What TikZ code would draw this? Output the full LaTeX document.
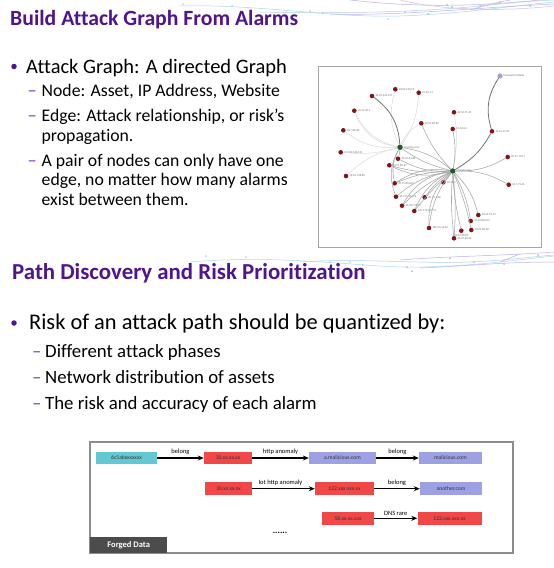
\documentclass[tikz,border=0pt]{standalone}
\usepackage{fontspec}
\setmainfont{Carlito}[Ligatures=NoCommon]
\usetikzlibrary{arrows.meta}
\definecolor{ttl}{RGB}{80,20,140}
\definecolor{dsh}{RGB}{130,60,200}
\definecolor{cyb}{RGB}{100,200,212}
\definecolor{rdb}{RGB}{240,72,72}
\definecolor{lvb}{RGB}{158,160,228}
\definecolor{gnd}{RGB}{130,20,30}
\definecolor{hub}{RGB}{30,90,40}
\definecolor{swA}{RGB}{170,215,235}
\definecolor{swB}{RGB}{190,175,235}
\tikzset{
  ttltext/.style={anchor=base west, inner sep=0, text=ttl, font=\fontsize{21.7}{24}\selectfont\bfseries},
  lvone/.style={anchor=base west, inner sep=0, font=\fontsize{20.5}{24}\selectfont},
  lvtwo/.style={anchor=base west, inner sep=0, font=\fontsize{17.7}{20}\selectfont},
  lvonb/.style={anchor=base west, inner sep=0, font=\fontsize{22.4}{24}\selectfont},
  lvtwb/.style={anchor=base west, inner sep=0, font=\fontsize{18.8}{22}\selectfont},
  dashmark/.style={anchor=base west, inner sep=0, text=dsh},
  bdot/.style={circle, fill=ttl, inner sep=0, minimum size=5.5pt},
  gn/.style={circle, fill=gnd, inner sep=0, minimum size=4.6pt},
  hb/.style={circle, fill=hub, inner sep=0, minimum size=5.5pt},
  lbl/.style={font=\fontsize{2.9}{3}\selectfont, text=black!55, inner sep=0.8pt},
  ef/.style={black!14, line width=0.5pt},
  em/.style={black!35, line width=0.55pt},
  ed/.style={black!55, line width=0.8pt},
  fbox/.style={rectangle, inner sep=0, minimum height=12.5pt, font=\fontsize{5.6}{6}\selectfont, text=black!80},
  arr/.style={-{Stealth[length=6pt,width=5pt]}, line width=1.5pt, black},
  elbl/.style={font=\fontsize{6.5}{7}\selectfont, inner sep=1pt, above=1.5pt},
  sw/.style={line width=0.5pt},
  swd/.style={circle, inner sep=0, minimum size=2pt}
}
\begin{document}
\begin{tikzpicture}[x=1pt,y=-1pt]
\useasboundingbox (0,0) rectangle (554,568);
\fill[white] (0,0) rectangle (554,568);

% decorative swooshes (top)
\draw[sw,swA] (180,6) .. controls (260,4) and (330,18) .. (400,16) .. controls (460,14) and (510,6) .. (554,2);
\draw[sw,swA!80!swB] (260,12) .. controls (340,14) and (420,12) .. (480,6) .. controls (510,3) and (530,1) .. (554,0);
\draw[sw,swB] (330,14) .. controls (400,16) and (470,8) .. (554,4);
\draw[sw,swB] (350,0) .. controls (420,8) and (480,6) .. (540,0);
\draw[sw,swB!80] (400,0) .. controls (440,10) and (500,12) .. (554,6);
\draw[sw,swB] (470,10) .. controls (490,4) and (500,2) .. (510,0);
\foreach \p/\c in {(183,4)/swA,(232,6)/swA,(310,11)/swA,(322,13)/swA!80!swB,(388,19)/swA,(405,12)/swB,(428,14)/swB,(447,5)/swB,(452,7)/swB,(480,6)/swB,(500,2)/swB,(530,6)/swB}
  \node[swd, fill=\c] at \p {};
% decorative swooshes (middle)
\draw[sw,swA] (190,262) .. controls (260,256) and (320,262) .. (380,266) .. controls (440,270) and (500,262) .. (554,256);
\draw[sw,swA!80!swB] (300,262) .. controls (360,258) and (420,264) .. (470,262) .. controls (510,260) and (530,257) .. (554,255);
\draw[sw,swB] (400,260) .. controls (450,256) and (500,256) .. (554,252);
\draw[sw,swB] (420,268) .. controls (470,266) and (500,262) .. (554,262);
\draw[sw,swB] (500,262) .. controls (510,258) and (515,256) .. (520,254);
\foreach \p/\c in {(206,256)/swA,(246,257)/swA,(330,262)/swA,(350,262)/swA,(363,265)/swA,(407,267)/swB,(412,271)/swB,(450,258)/swB,(474,262)/swB,(504,264)/swB,(538,255)/swB}
  \node[swd, fill=\c] at \p {};

% ---------- Section 1 ----------
\node[ttltext] (t1) at (10,25.5) {Build Attack Graph From Alarms};
\node[bdot] (b1) at (14,66.5) {};
\node[lvone] (a1) at (26,73) {Attack Graph: A directed Graph};
\begin{scope}[every node/.append style={font=\fontsize{18.5}{20}\selectfont}]
\node[dashmark] (d1) at (27.5,96.7) {–};
\node[dashmark] (d2) at (27.5,121.7) {–};
\node[dashmark] (d3) at (27.5,166.2) {–};
\end{scope}
\node[lvtwo] (s1) at (41.5,96.7) {Node: Asset, IP Address, Website};
\node[lvtwo] (s2) at (41.5,121.7) {Edge: Attack relationship, or risk’s};
\node[lvtwo] (s2b) at (41.5,141.2) {propagation.};
\node[lvtwo] (s3) at (41.5,166.2) {A pair of nodes can only have one};
\node[lvtwo] (s3b) at (41.5,185.7) {edge, no matter how many alarms};
\node[lvtwo] (s3c) at (41.5,205.2) {exist between them.};

% ---------- graph picture ----------
\node[draw=black!35, line width=0.6pt, fill=white, minimum width=223pt, minimum height=181pt, inner sep=0] (gfr) at (429.5,156.5) {};
\node[hb, label={[lbl]right:amazing.com}] (h1) at (400,147.3) {};
\node[hb, label={[lbl]right:ufangfa.com}] (h2) at (452.7,171) {};
\node[circle, fill=lvb, draw=black!40, line width=0.3pt, inner sep=0, minimum size=4.6pt, label={[lbl]right:fanbase07a78e0e}] (bl) at (500,76) {};
\foreach \n/\x/\y/\t/\s in {
 1/395.3/89.3/30.60.130.55/right,
 2/372/96/30.10.244.137/right,
 3/418.7/92.7/10.60.1.1/right,
 4/354.3/110.7/10.15.48.1/right,
 5/343.3/130.3/30.7.80.80/right,
 6/340.7/152.3/30.100.130.131/right,
 7/346/176/30.62.138.80/right,
 8/421.3/123.3/30.34.80.80/right,
 9/454/112.3/30.56.55.35/right,
 10/452.7/129/10.20.0.4/right,
 11/492/131.3/30.24.35.67/right,
 12/507.7/157/30.27.110.7/right,
 13/508.7/184.7/30.7.75.46/right,
 14/398/158.7/30.34.81.80/right,
 15/389.3/165.3/30.24.80.87/right,
 16/394.7/183.3/30.15.80.209/right,
 17/443.3/182.3/10.48.2/right,
 18/396/196.7/30.217.213.76/right,
 19/402/205.7/30.207.98.37/right,
 20/424.7/197.3/30.7.11.80/right,
 21/414.3/211/125.115.241.37/right,
 22/478.3/215/30.24.55.54/right,
 23/470.7/221/30.24.80.104/right,
 24/471.3/230/30.24.80.68/right,
 25/461.3/230.7/30.24.80.80/below,
 26/429/228/180.93.12.26/right,
 27/454/238.3/30.24.80.80/right}
 \node[gn, label={[lbl]\s:\t}] (n\n) at (\x,\y) {};

% edges from h1 (faint, left side)
\draw[ef] (h1) to[bend left=20] (n1);
\draw[ef] (h1) to[bend right=15] (n3);
\draw[ef] (h1) to[bend left=25] (n4);
\draw[ef] (h1) to[bend left=20] (n5);
\draw[ef] (h1) to[bend left=10] (n6);
\draw[ef] (h1) to[bend right=15] (n7);
\draw[ef] (h1) to[bend left=30] (n4);
\draw[ed] (h1) to[bend right=25] (n2);
\draw[em] (h1) to[bend left=10] (n14);
\draw[em] (h1) to[bend right=20] (n16);
\draw[em] (h1) to[bend right=25] (n18);
\draw[em] (h1) to[bend left=15] (h2);
\draw[em] (h1) to[bend right=10] (h2);
\draw[ef] (h1) to[bend left=20] (n8);
% edges from h2
\draw[em] (h2) to[bend left=10] (n8);
\draw[ef] (h2) to[bend right=10] (n9);
\draw[em] (h2) to[bend right=10] (n10);
\draw[ed] (h2) to[bend right=15] (n11);
\draw[ed] (bl) to[bend right=25] (n11);
\draw[em] (h2) to[bend right=15] (n12);
\draw[em] (h2) to[bend left=15] (n13);
\draw[em] (h2) to[bend left=15] (n14);
\draw[em] (h2) to[bend left=10] (n15);
\draw[em] (h2) to[bend left=20] (n15);
\draw[em] (h2) to[bend right=10] (n16);
\draw[em] (h2) to[bend right=20] (n16);
\draw[em] (h2) to[bend left=5] (n17);
\draw[em] (h2) to[bend right=15] (n18);
\draw[em] (h2) to[bend right=25] (n19);
\draw[em] (h2) to[bend right=10] (n19);
\draw[em] (h2) to[bend right=10] (n20);
\draw[em] (h2) to[bend right=20] (n21);
\draw[em] (h2) to[bend right=5] (n21);
\draw[em] (h2) to[bend left=15] (n22);
\draw[em] (h2) to[bend left=10] (n23);
\draw[em] (h2) to[bend left=5] (n24);
\draw[em] (h2) to[bend right=5] (n25);
\draw[em] (h2) to[bend right=15] (n26);
\draw[em] (h2) to[bend right=25] (n26);
\draw[em] (h2) to[bend left=5] (n27);
\draw[em] (h2) to[bend right=5] (n27);

% ---------- Section 2 ----------
\node[ttltext, font=\fontsize{22.85}{25}\selectfont\bfseries] (t2) at (12,279.5) {Path Discovery and Risk Prioritization};
\node[bdot] (b2) at (14,323) {};
\node[lvonb] (a2) at (29,329.5) {Risk of an attack path should be quantized by:};
\begin{scope}[every node/.append style={font=\fontsize{18.8}{22}\selectfont}]
\node[dashmark] (e1) at (32,357.5) {–};
\node[dashmark] (e2) at (32,383) {–};
\node[dashmark] (e3) at (32,409) {–};
\end{scope}
\node[lvtwb] (u1) at (45,357.5) {Different attack phases};
\node[lvtwb] (u2) at (45,383) {Network distribution of assets};
\node[lvtwb] (u3) at (45,409) {The risk and accuracy of each alarm};

% ---------- Forged data diagram ----------
\node[draw=black!45, line width=1.1pt, minimum width=423pt, minimum height=111pt, inner sep=0] (fr) at (301.5,497.5) {};
\node[fill=black!70, minimum width=77pt, minimum height=16pt, inner sep=0, anchor=south west, text=white, font=\fontsize{8.5}{9}\selectfont\bfseries] (fd) at (90,553) {Forged Data};

\node[fbox, fill=cyb, minimum width=61pt] (c1) at (126.5,458) {6c5abxxxxxxx};
\node[fbox, fill=rdb, minimum width=48pt] (r1) at (228,458) {30.xx.xx.xx};
\node[fbox, fill=lvb, minimum width=67pt] (l1) at (342.5,458) {a.malicious.com};
\node[fbox, fill=lvb, minimum width=63pt] (l2) at (450.5,458) {malicious.com};
\node[fbox, fill=rdb, minimum width=47pt] (r2) at (228.5,488.7) {30.xx.xx.xx};
\node[fbox, fill=rdb, minimum width=59pt] (r3) at (344.5,488.7) {122.xxx.xxx.xx};
\node[fbox, fill=lvb, minimum width=62pt] (l3) at (451,488.7) {another.com};
\node[fbox, fill=rdb, minimum width=52pt] (r4) at (348,518.3) {58.xx.xx.xxx};
\node[fbox, fill=rdb, minimum width=64pt] (r5) at (449.5,518.3) {122.xxx.xxx.xx};

\draw[arr] (c1) -- node[elbl] {belong} (r1);
\draw[arr] (r1) -- node[elbl] {http anomaly} (l1);
\draw[arr] (l1) -- node[elbl] {belong} (l2);
\draw[arr] (r2) -- node[elbl, xshift=-3pt] {Iot http anomaly} (r3);
\draw[arr] (r3) -- node[elbl] {belong} (l3);
\draw[arr] (r4) -- node[elbl] {DNS rare} (r5);
\node[font=\fontsize{9}{10}\selectfont\bfseries, inner sep=0] (dots) at (280,533) {......};
\end{tikzpicture}
\end{document}
